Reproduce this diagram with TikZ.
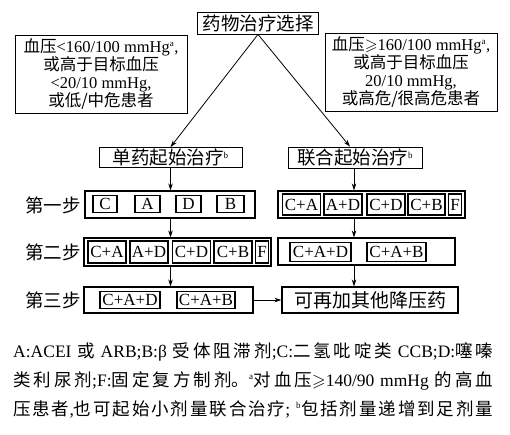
\documentclass[tikz,border=0pt]{standalone}
\usepackage{amssymb}
\usepackage{fontspec}
\setmainfont{Liberation Serif}
\newfontfamily\cjk{Noto Sans CJK SC}
\newcommand{\zh}[1]{{\cjk #1}}
\newcommand{\fnmark}[1]{\textsuperscript{\fontsize{9}{9}\selectfont\rmfamily #1}}
\XeTeXlinebreaklocale "zh"
\XeTeXlinebreakskip=0pt plus 3pt
\usetikzlibrary{arrows.meta}

\begin{document}
\begin{tikzpicture}[x=1pt, y=-1pt,
        box/.style={draw, line width=0.8pt, inner sep=0pt, align=center},
        stepbox/.style={draw, line width=1.2pt, inner sep=0pt},
        drug/.style={draw, line width=1.1pt, inner sep=0pt, font=\fontsize{17}{17}\selectfont},
        steplab/.style={anchor=east, inner sep=0pt, font=\fontsize{18.5}{18.5}\selectfont\cjk},
        arr/.style={-{Stealth[length=7pt,width=4.5pt]}, line width=0.8pt}]
                        \useasboundingbox (0,0) rectangle (510,434);
                        \node[box, minimum width=121pt, minimum height=22pt, font=\fontsize{18.5}{18.5}\selectfont\cjk] (choice) at (258,23) {药物治疗选择};
                        \node[box, minimum width=172pt, minimum height=78pt, font=\fontsize{16.5}{18}\selectfont] (lowrisk) at (101,74)
                            {\zh{血压}<160/100 mmHg\fnmark{a},\\ \zh{或高于目标血压}\\ <20/10 mmHg,\\ \zh{或低/中危患者}};
                        \node[box, minimum width=172pt, minimum height=78pt, font=\fontsize{16.5}{18}\selectfont] (highrisk) at (411,72)
                            {\zh{血压}$\geqslant$160/100 mmHg\fnmark{a},\\ \zh{或高于目标血压}\\ 20/10 mmHg,\\ \zh{或高危/很高危患者}};
                        \node[box, minimum width=143pt, minimum height=20pt, font=\fontsize{18.5}{18.5}\selectfont\cjk] (mono) at (170.5,157.5) {单药起始治疗\fnmark{b}};
                        \node[box, minimum width=134pt, minimum height=21pt, font=\fontsize{18.5}{18.5}\selectfont\cjk] (combo) at (355,157.5) {联合起始治疗\fnmark{b}};
                        \node[stepbox, minimum width=170pt, minimum height=27pt] (monoI) at (170,204.5) {};
                        \node[stepbox, minimum width=187pt, minimum height=27pt] (comboI) at (371.5,204.5) {};
                        \node[stepbox, minimum width=187pt, minimum height=28pt] (monoII) at (177.5,252) {};
                        \node[stepbox, minimum width=177pt, minimum height=27pt] (comboII) at (366.5,251.5) {};
                        \node[stepbox, minimum width=169pt, minimum height=26pt] (monoIII) at (168.5,300) {};
                        \node[box, line width=1.2pt, minimum width=176pt, minimum height=26pt, font=\fontsize{19}{19}\selectfont\cjk] (addon) at (370,300) {可再加其他降压药};
                        \node[steplab] (labI) at (81,205) {第一步};
                        \node[steplab] (labII) at (81,252) {第二步};
                        \node[steplab] (labIII) at (81,300) {第三步};
                        \foreach \lab/\cx/\w [count=\i] in {C/105/24, A/147.5/25, D/188.5/25, B/230.5/27}
                        \node[drug, minimum width=\w pt, minimum height=17pt] (monoI\i) at (\cx,204) {\lab};
                        \foreach \lab/\cx/\w [count=\i] in {C+A/301.5/38, A+D/343/38, C+D/386/38, C+B/426.5/37, F/455/13}
                        \node[drug, minimum width=\w pt, minimum height=21pt] (comboI\i) at (\cx,204.5) {\lab};
                        \foreach \lab/\cx/\w [count=\i] in {C+A/107/38, A+D/149/38, C+D/191.5/38, C+B/233/38, F/262/12.5}
                        \node[drug, minimum width=\w pt, minimum height=22pt] (monoII\i) at (\cx,252) {\lab};
                        \foreach \lab/\cx/\w [count=\i] in {C+A+D/320.5/61, C+A+B/396.5/59}
                        \node[drug, minimum width=\w pt, minimum height=19pt] (comboII\i) at (\cx,252) {\lab};
                        \foreach \lab/\cx/\w [count=\i] in {C+A+D/130/60, C+A+B/206/58}
                        \node[drug, minimum width=\w pt, minimum height=17pt] (monoIII\i) at (\cx,300) {\lab};
                        \draw[arr] (choice.south) -- (mono.north);
                        \draw[arr] (choice.south) -- ([xshift=-5pt]combo.north);
                        \draw[arr] (mono.south) -- (mono.south |- monoI.north);
                        \draw[arr] (mono.south |- monoI.south) -- (mono.south |- monoII.north);
                        \draw[arr] (mono.south |- monoII.south) -- (mono.south |- monoIII.north);
                        \draw[arr] ([xshift=-1pt]combo.south) -- ([xshift=-1pt]combo.south |- comboI.north);
                        \draw[arr] ([xshift=-1pt]combo.south |- comboI.south) -- ([xshift=-1pt]combo.south |- comboII.north);
                        \draw[arr] ([xshift=-1pt]combo.south |- comboII.south) -- ([xshift=-1pt]combo.south |- addon.north);
                        \draw[arr] (monoIII.east) -- (addon.west);
                        \node[anchor=north west, inner sep=0pt, text width=480pt, font=\fontsize{17.5}{29}\selectfont] (legend) at (13,342)
                            {\tolerance=9999\parfillskip=0pt\parindent=0pt\leftskip=0pt\rightskip=0pt
                            A:ACEI \zh{或} ARB;B:β \zh{受体阻滞剂};C:\zh{二氢吡啶类} CCB;D:\zh{噻嗪}\linebreak
                            \zh{类利尿剂};F:\zh{固定复方制剂。}\fnmark{a}\zh{对血压}$\geqslant$140/90 mmHg \zh{的高血}\linebreak
                            \zh{压患者},\zh{也可起始小剂量联合治疗}; \fnmark{b}\zh{包括剂量递增到足剂量}\par};
                    \end{tikzpicture}
\end{document}
